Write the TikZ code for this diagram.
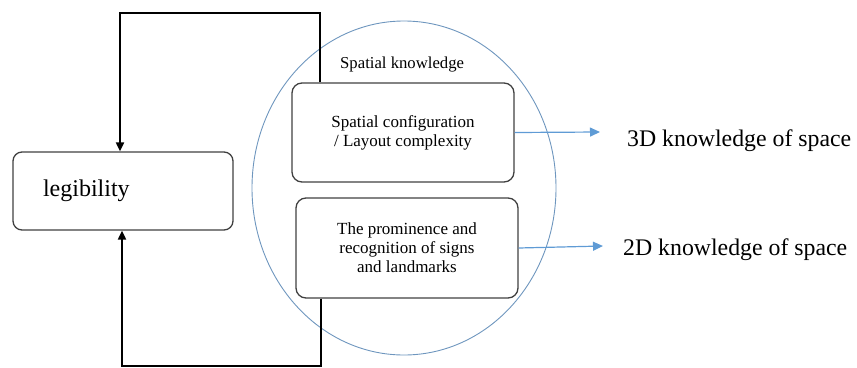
\documentclass[tikz,border=0pt]{standalone}
\usepackage{fontspec}
\setmainfont{Liberation Serif}
\usetikzlibrary{arrows.meta, positioning, shapes.geometric}
\definecolor{ringblue}{RGB}{110,150,190}
\definecolor{arrowblue}{RGB}{95,155,213}
\tikzset{
    knowbox/.style={draw=black!75, line width=1.3pt, rounded corners=10pt, align=center,
        minimum width=222pt, font=\fontsize{17}{19}\selectfont},
    legbox/.style={draw=black!75, line width=1.3pt, rounded corners=9pt, align=left,
        text width=160pt, inner xsep=30pt, minimum height=78pt, font=\fontsize{24}{28}\selectfont},
    feedback/.style={black, line width=2pt, -{Triangle[length=9pt,width=8pt]}},
    outarrow/.style={arrowblue, line width=1.2pt, -{Triangle[length=10pt,width=9pt]}},
    bigtext/.style={font=\fontsize{23.8}{28}\selectfont, inner sep=0pt}
}
\begin{document}
\begin{tikzpicture}[x=1pt, y=-1pt]
            \useasboundingbox (0,0) rectangle (857,367);

            \coordinate (TopL) at (120,13);
            \coordinate (TopR) at (320,13);
            \coordinate (BotL) at (122,366);
            \coordinate (BotR) at (321,366);
            \coordinate (ThreeTip) at (600,132);
            \coordinate (TwoTip) at (603,246);

            \node[draw=ringblue, line width=0.9pt, ellipse, minimum width=304pt, minimum height=334pt] (Ring) at (404,188) {};% spatial knowledge ring
            \node[anchor=base west, inner sep=0pt, font=\fontsize{16.7}{19}\selectfont] (RingTitle) at (340,68) {Spatial knowledge};

            \node[legbox] (Leg) at (123,191) {legibility};
            \node[knowbox, minimum height=99pt] (Conf) at (403,132.5) {Spatial configuration\\/ Layout complexity};
            \node[knowbox, minimum height=100pt] (Sign) at (407,248) {The prominence and\\recognition of signs\\and landmarks};

            \node[bigtext, anchor=base west] (Three) at (627,146) {3D knowledge of space};
            \node[bigtext, anchor=base west] (Two) at (623,255) {2D knowledge of space};

            \draw[feedback] (Conf.north -| TopR) -- (TopR) -- (TopL) -- (Leg.north -| TopL);% loop over the top
            \draw[feedback] (Sign.south -| BotR) -- (BotR) -- (BotL) -- (Leg.south -| BotL);% loop under the bottom
            \draw[outarrow] (Conf.east) -- (ThreeTip);
            \draw[outarrow] (Sign.east) -- (TwoTip);
        \end{tikzpicture}
\end{document}
